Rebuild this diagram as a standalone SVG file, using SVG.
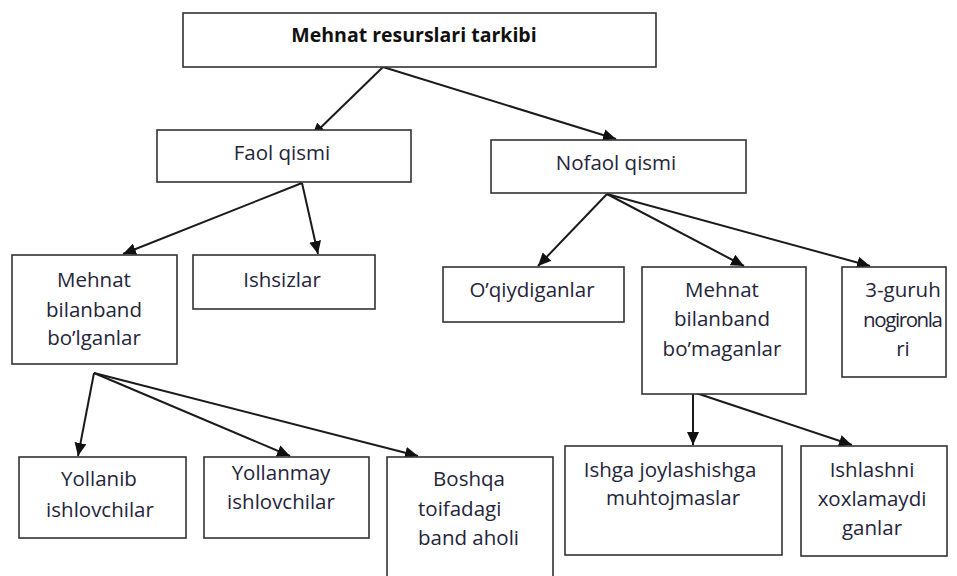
<svg xmlns="http://www.w3.org/2000/svg" width="957" height="576" viewBox="0 0 957 576">
<style>
.box{fill:#fff;stroke:#333;stroke-width:1.6}
.t{font-family:"Open Sans","Noto Sans",sans-serif;font-size:20.5px;fill:#24243a;text-anchor:middle}
.tl{text-anchor:start}
.b{font-weight:bold;font-size:19.5px;fill:#111}
.c{stroke:#1a1a1a;stroke-width:2;fill:none;marker-end:url(#ah)}
</style>
<defs>
<marker id="ah" markerUnits="userSpaceOnUse" markerWidth="14" markerHeight="12" refX="13" refY="6" orient="auto">
<path d="M0,0 L13,6 L0,12 z" fill="#111"/>
</marker>
</defs>
<rect width="957" height="576" fill="#fff"/>
<g id="connectors">
<line class="c" x1="383" y1="67" x2="312" y2="136"/>
<line class="c" x1="383" y1="67" x2="616" y2="139"/>
<line class="c" x1="302" y1="183" x2="123" y2="254"/>
<line class="c" x1="302" y1="183" x2="318" y2="254"/>
<line class="c" x1="607" y1="194" x2="538" y2="266"/>
<line class="c" x1="607" y1="194" x2="744" y2="266"/>
<line class="c" x1="607" y1="194" x2="870" y2="266"/>
<line class="c" x1="94" y1="373" x2="78" y2="456"/>
<line class="c" x1="94" y1="373" x2="290" y2="456"/>
<line class="c" x1="94" y1="373" x2="418" y2="456"/>
<line class="c" x1="693" y1="392" x2="693" y2="445"/>
<line class="c" x1="693" y1="392" x2="852" y2="445"/>
</g>
<g id="root">
<rect class="box" x="183" y="13" width="473" height="54"/>
<text class="t b" x="414" y="42">Mehnat resurslari tarkibi</text>
</g>
<g id="faol">
<rect class="box" x="157" y="130" width="254" height="52"/>
<text class="t" x="282" y="160">Faol qismi</text>
</g>
<g id="nofaol">
<rect class="box" x="491" y="140" width="255" height="53"/>
<text class="t" x="616" y="170">Nofaol qismi</text>
</g>
<g id="band">
<rect class="box" x="12" y="255" width="165" height="109"/>
<text class="t" x="94" y="287">Mehnat</text>
<text class="t" x="94" y="317">bilanband</text>
<text class="t" x="94" y="345">bo’lganlar</text>
</g>
<g id="ishsizlar">
<rect class="box" x="193" y="255" width="182" height="54"/>
<text class="t" x="282" y="287">Ishsizlar</text>
</g>
<g id="oqiydiganlar">
<rect class="box" x="443" y="267" width="181" height="55"/>
<text class="t" x="532" y="297">O’qiydiganlar</text>
</g>
<g id="bandemas">
<rect class="box" x="642" y="267" width="164" height="127"/>
<text class="t" x="722" y="297">Mehnat</text>
<text class="t" x="722" y="326">bilanband</text>
<text class="t" x="722" y="356">bo’maganlar</text>
</g>
<g id="nogironlar">
<rect class="box" x="842" y="267" width="104" height="110"/>
<text class="t" x="903" y="297">3-guruh</text>
<text class="t" x="903" y="327" textLength="80" lengthAdjust="spacing">nogironla</text>
<text class="t" x="903" y="356">ri</text>
</g>
<g id="yollanib">
<rect class="box" x="19" y="457" width="167" height="81"/>
<text class="t" x="99" y="486">Yollanib</text>
<text class="t" x="100" y="517">ishlovchilar</text>
</g>
<g id="yollanmay">
<rect class="box" x="204" y="457" width="165" height="81"/>
<text class="t" x="281" y="480">Yollanmay</text>
<text class="t" x="281" y="509">ishlovchilar</text>
</g>
<g id="boshqa">
<rect class="box" x="387" y="457" width="166" height="125"/>
<text class="t" x="469" y="486">Boshqa</text>
<text class="t tl" x="418" y="516">toifadagi</text>
<text class="t tl" x="418" y="545">band aholi</text>
</g>
<g id="ishga">
<rect class="box" x="565" y="446" width="217" height="109"/>
<text class="t" x="670" y="477">Ishga joylashishga</text>
<text class="t" x="673" y="505">muhtojmaslar</text>
</g>
<g id="ishlashni">
<rect class="box" x="801" y="446" width="146" height="110"/>
<text class="t" x="872" y="477">Ishlashni</text>
<text class="t" x="872" y="506">xoxlamaydi</text>
<text class="t" x="872" y="535">ganlar</text>
</g>
</svg>
